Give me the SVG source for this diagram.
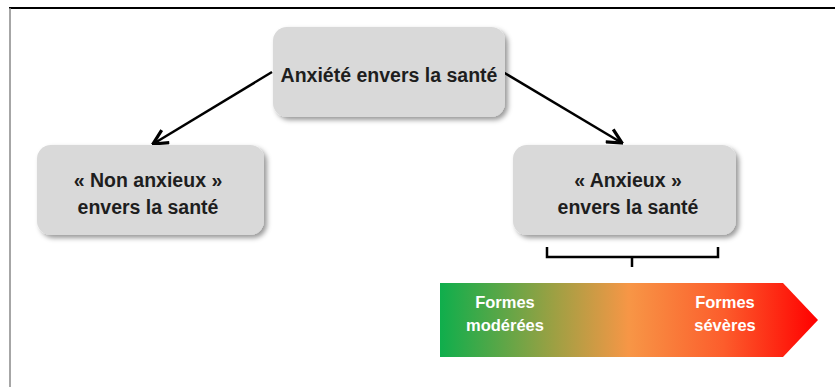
<svg xmlns="http://www.w3.org/2000/svg" width="835" height="387" viewBox="0 0 835 387">
<style>
.box{fill:#d9d9d9;filter:url(#sh)}
.t{font-family:"Liberation Sans",Arial,sans-serif;font-weight:bold;font-size:19.5px;fill:#1e1e1e;text-anchor:middle}
.w{font-family:"Liberation Sans",Arial,sans-serif;font-weight:bold;font-size:16.5px;fill:#ffffff;text-anchor:middle}
.c{stroke:#000;stroke-width:2.5;fill:none;marker-end:url(#ah)}
</style>
<defs>
<filter id="sh" x="-10%" y="-10%" width="125%" height="130%">
<feDropShadow dx="3" dy="3" stdDeviation="2.5" flood-color="#000" flood-opacity="0.4"/>
</filter>
<marker id="ah" viewBox="0 0 12 12" refX="11" refY="6" markerWidth="7" markerHeight="7" orient="auto" markerUnits="strokeWidth">
<path d="M1,1 L11,6 L1,11" fill="none" stroke="#000" stroke-width="2.2"/>
</marker>
<linearGradient id="g" x1="0" y1="0" x2="1" y2="0">
<stop offset="0" stop-color="#0fae4c"/>
<stop offset="0.3" stop-color="#9ca043"/>
<stop offset="0.5" stop-color="#f79646"/>
<stop offset="0.75" stop-color="#fc5d2c"/>
<stop offset="1" stop-color="#ff0000"/>
</linearGradient>
</defs>
<g id="frame">
<line x1="9" y1="8" x2="835" y2="8" stroke="#000" stroke-width="2"/>
<line x1="10" y1="8" x2="10" y2="387" stroke="#888" stroke-width="1.5"/>
</g>
<g id="connectors">
<line class="c" x1="272" y1="72" x2="153" y2="144"/>
<line class="c" x1="503" y1="72" x2="622" y2="143"/>
<path d="M547,247 V257 H718 V247 M632,257 V267" fill="none" stroke="#000" stroke-width="2.5"/>
</g>
<g id="root">
<rect class="box" x="273" y="27" width="232" height="90" rx="14"/>
<text class="t" x="389" y="82">Anxiété envers la santé</text>
</g>
<g id="non-anxieux">
<rect class="box" x="37" y="145" width="227" height="90" rx="14"/>
<text class="t" x="148" y="187">« Non anxieux »</text>
<text class="t" x="148" y="214">envers la santé</text>
</g>
<g id="anxieux">
<rect class="box" x="513" y="145" width="223" height="90" rx="14"/>
<text class="t" x="628" y="187">« Anxieux »</text>
<text class="t" x="628" y="214">envers la santé</text>
</g>
<g id="scale">
<polygon points="440,283 783,283 818,320 783,357 440,357" fill="url(#g)"/>
<text class="w" x="505" y="308">Formes</text>
<text class="w" x="505" y="331">modérées</text>
<text class="w" x="725" y="308">Formes</text>
<text class="w" x="725" y="331">sévères</text>
</g>
</svg>
